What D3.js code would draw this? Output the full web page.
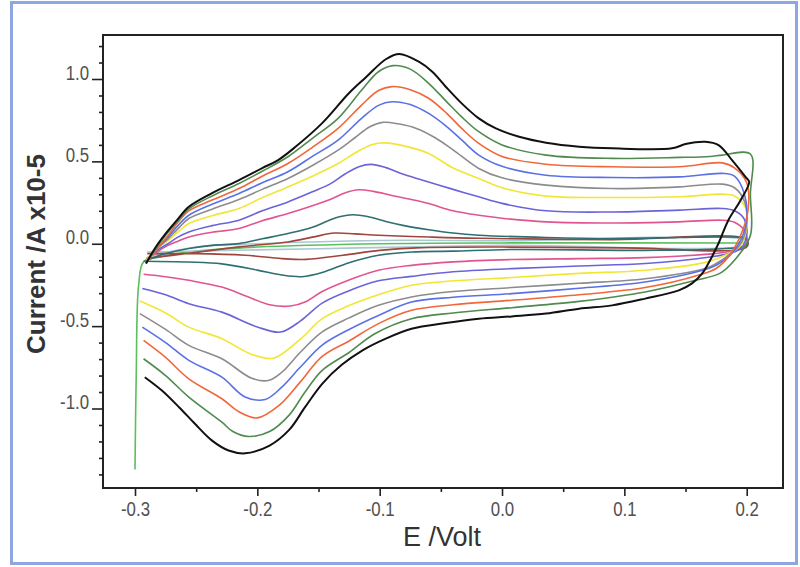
<!DOCTYPE html>
<html>
<head>
<meta charset="utf-8">
<script src="https://cdn.jsdelivr.net/npm/d3@7"></script>
<style>
  body { margin: 0; background: #fff; }
  svg { display: block; }
</style>
</head>
<body>
<script>
// tick values
var xTicks = [-0.3, -0.2, -0.1, 0.0, 0.1, 0.2];
var xMinor = [-0.25, -0.15, -0.05, 0.05, 0.15];
var yTicks = [1.0, 0.5, 0.0, -0.5, -1.0];
var yMinor = [1.2, 1.1, 0.9, 0.8, 0.7, 0.6, 0.4, 0.3, 0.2, 0.1, -0.1, -0.2, -0.3, -0.4,
              -0.6, -0.7, -0.8, -0.9, -1.1, -1.2, -1.3, -1.4];

// scans, [E (V), I (A x10-5)]: forward branch then return branch
var scanBlack = [[-0.291,-0.12],[-0.283,-0.02],[-0.274,0.07],[-0.265,0.15],[-0.256,0.224],[-0.237,0.307],
  [-0.215,0.386],[-0.196,0.459],[-0.183,0.508],[-0.169,0.587],[-0.147,0.732],[-0.125,0.915],[-0.111,1.012],
  [-0.095,1.12],[-0.084,1.152],[-0.068,1.105],[-0.057,1.044],[-0.046,0.953],[-0.033,0.852],[-0.019,0.761],
  [-0.005,0.700],[0.014,0.649],[0.036,0.613],[0.063,0.589],[0.09,0.579],[0.139,0.579],[0.150,0.605],
  [0.166,0.619],[0.177,0.599],[0.188,0.508],[0.199,0.406],[0.202,0.376],
  [0.195,0.264],[0.185,0.143],[0.177,0.003],[0.1715,-0.08],[0.1635,-0.181],[0.155,-0.242],[0.1445,-0.283],
  [0.117,-0.333],[0.09,-0.374],[0.063,-0.394],[0.036,-0.424],[0.008,-0.441],[-0.019,-0.455],[-0.046,-0.481],
  [-0.074,-0.516],[-0.095,-0.576],[-0.114,-0.647],[-0.131,-0.735],[-0.147,-0.85],[-0.161,-0.992],
  [-0.174,-1.13],[-0.19,-1.225],[-0.210,-1.272],[-0.2235,-1.255],[-0.237,-1.195],[-0.251,-1.093],
  [-0.264,-0.992],[-0.278,-0.891],[-0.292,-0.81]];
var scanDarkGreen = [[-0.291,-0.12],[-0.283,-0.03],[-0.274,0.06],[-0.265,0.14],[-0.256,0.212],[-0.237,0.29],
  [-0.215,0.366],[-0.196,0.44],[-0.175,0.528],[-0.155,0.64],[-0.134,0.761],[-0.115,0.93],[-0.101,1.044],
  [-0.089,1.081],[-0.075,1.06],[-0.06,0.974],[-0.045,0.86],[-0.033,0.77],[-0.019,0.68],[0.0,0.6],
  [0.036,0.538],[0.09,0.518],[0.145,0.524],[0.17,0.53],[0.18,0.538],[0.203,0.545],
  [0.203,0.3],[0.203,0.05],[0.19,-0.1],[0.178,-0.18],[0.158,-0.222],[0.117,-0.293],[0.063,-0.35],
  [0.008,-0.388],[-0.04,-0.42],[-0.074,-0.455],[-0.104,-0.546],[-0.125,-0.66],[-0.147,-0.769],
  [-0.161,-0.9],[-0.174,-1.04],[-0.19,-1.14],[-0.207,-1.17],[-0.22,-1.14],[-0.229,-1.083],
  [-0.256,-0.931],[-0.275,-0.8],[-0.293,-0.698]];
var scanOrange = [[-0.291,-0.12],[-0.282,-0.03],[-0.273,0.05],[-0.265,0.13],[-0.256,0.2],[-0.237,0.265],
  [-0.215,0.335],[-0.196,0.41],[-0.175,0.487],[-0.155,0.585],[-0.134,0.70],[-0.115,0.84],[-0.101,0.93],
  [-0.09,0.954],[-0.075,0.935],[-0.06,0.883],[-0.045,0.79],[-0.033,0.7],[-0.019,0.609],[0.0,0.53],
  [0.036,0.483],[0.09,0.467],[0.145,0.467],[0.18,0.491],[0.19,0.46],[0.2,0.37],
  [0.201,0.2],[0.195,0.05],[0.185,-0.08],[0.175,-0.15],[0.161,-0.19],[0.117,-0.266],[0.063,-0.31],
  [0.008,-0.343],[-0.04,-0.37],[-0.074,-0.404],[-0.101,-0.485],[-0.125,-0.59],[-0.147,-0.684],
  [-0.165,-0.84],[-0.182,-0.98],[-0.2,-1.057],[-0.215,-1.02],[-0.229,-0.941],[-0.256,-0.82],
  [-0.275,-0.69],[-0.293,-0.587]];
var scanBlue = [[-0.291,-0.11],[-0.282,-0.03],[-0.273,0.04],[-0.265,0.11],[-0.256,0.173],[-0.237,0.24],
  [-0.215,0.305],[-0.196,0.37],[-0.175,0.437],[-0.155,0.53],[-0.134,0.629],[-0.115,0.76],[-0.101,0.84],
  [-0.09,0.862],[-0.075,0.845],[-0.06,0.791],[-0.045,0.71],[-0.033,0.63],[-0.019,0.538],[0.0,0.47],
  [0.036,0.416],[0.09,0.402],[0.145,0.406],[0.18,0.427],[0.19,0.41],[0.198,0.305],
  [0.2,0.15],[0.195,0.02],[0.185,-0.08],[0.175,-0.13],[0.164,-0.161],[0.117,-0.232],[0.063,-0.27],
  [0.008,-0.303],[-0.04,-0.325],[-0.074,-0.354],[-0.101,-0.435],[-0.125,-0.52],[-0.147,-0.615],
  [-0.165,-0.75],[-0.18,-0.87],[-0.1935,-0.945],[-0.21,-0.93],[-0.229,-0.81],[-0.256,-0.708],
  [-0.275,-0.6],[-0.294,-0.506]];
var scanGray = [[-0.291,-0.11],[-0.282,-0.03],[-0.273,0.03],[-0.265,0.09],[-0.256,0.153],[-0.237,0.21],
  [-0.215,0.269],[-0.196,0.33],[-0.175,0.396],[-0.155,0.475],[-0.134,0.568],[-0.12,0.645],[-0.108,0.71],
  [-0.097,0.737],[-0.085,0.728],[-0.07,0.7],[-0.055,0.645],[-0.04,0.57],[-0.019,0.457],[0.0,0.4],
  [0.036,0.356],[0.09,0.335],[0.145,0.345],[0.18,0.362],[0.19,0.34],[0.198,0.26],
  [0.2,0.12],[0.195,0.0],[0.185,-0.07],[0.175,-0.12],[0.166,-0.15],[0.117,-0.212],[0.063,-0.24],
  [0.008,-0.266],[-0.04,-0.29],[-0.074,-0.323],[-0.101,-0.374],[-0.125,-0.45],[-0.147,-0.535],
  [-0.165,-0.66],[-0.18,-0.78],[-0.191,-0.83],[-0.205,-0.815],[-0.229,-0.698],[-0.256,-0.617],
  [-0.275,-0.52],[-0.296,-0.424]];
var scanYellow = [[-0.291,-0.1],[-0.282,-0.03],[-0.273,0.02],[-0.265,0.07],[-0.256,0.123],[-0.237,0.17],
  [-0.215,0.214],[-0.196,0.28],[-0.175,0.345],[-0.155,0.41],[-0.134,0.487],[-0.118,0.56],[-0.106,0.603],
  [-0.095,0.612],[-0.082,0.597],[-0.06,0.548],[-0.04,0.46],[-0.019,0.396],[0.0,0.34],[0.036,0.289],
  [0.09,0.281],[0.145,0.285],[0.18,0.301],[0.19,0.29],[0.199,0.22],
  [0.2,0.1],[0.195,-0.01],[0.185,-0.06],[0.168,-0.11],[0.117,-0.161],[0.063,-0.18],[0.008,-0.205],
  [-0.04,-0.225],[-0.074,-0.252],[-0.101,-0.31],[-0.125,-0.375],[-0.147,-0.455],[-0.165,-0.58],
  [-0.187,-0.695],[-0.205,-0.67],[-0.229,-0.576],[-0.256,-0.506],[-0.275,-0.42],[-0.296,-0.348]];
var scanViolet = [[-0.291,-0.1],[-0.282,-0.04],[-0.273,0.0],[-0.265,0.04],[-0.256,0.072],[-0.237,0.11],
  [-0.215,0.143],[-0.196,0.2],[-0.175,0.254],[-0.155,0.315],[-0.14,0.365],[-0.128,0.425],[-0.117,0.468],
  [-0.107,0.482],[-0.095,0.462],[-0.08,0.42],[-0.06,0.375],[-0.04,0.33],[-0.019,0.285],[0.0,0.245],
  [0.036,0.2],[0.09,0.193],[0.145,0.204],[0.18,0.214],[0.19,0.2],[0.198,0.15],
  [0.2,0.05],[0.195,-0.03],[0.185,-0.06],[0.17,-0.08],[0.117,-0.12],[0.063,-0.135],[0.008,-0.151],
  [-0.04,-0.17],[-0.074,-0.198],[-0.101,-0.225],[-0.125,-0.285],[-0.147,-0.36],[-0.165,-0.47],
  [-0.181,-0.536],[-0.2,-0.505],[-0.229,-0.415],[-0.256,-0.364],[-0.275,-0.31],[-0.294,-0.272]];
var scanPink = [[-0.291,-0.1],[-0.282,-0.05],[-0.273,-0.01],[-0.265,0.015],[-0.256,0.041],[-0.237,0.07],
  [-0.215,0.092],[-0.196,0.14],[-0.175,0.183],[-0.155,0.23],[-0.14,0.27],[-0.128,0.31],[-0.117,0.328],
  [-0.105,0.318],[-0.09,0.293],[-0.075,0.27],[-0.06,0.244],[-0.04,0.2],[-0.019,0.173],[0.0,0.155],
  [0.036,0.133],[0.09,0.126],[0.145,0.133],[0.18,0.143],[0.19,0.13],[0.198,0.08],
  [0.2,0.0],[0.19,-0.04],[0.173,-0.06],[0.117,-0.084],[0.063,-0.09],[0.008,-0.096],[-0.04,-0.11],
  [-0.074,-0.131],[-0.101,-0.161],[-0.125,-0.22],[-0.147,-0.29],[-0.16,-0.35],[-0.173,-0.378],
  [-0.19,-0.37],[-0.21,-0.315],[-0.229,-0.263],[-0.256,-0.222],[-0.275,-0.2],[-0.293,-0.185]];
var scanTeal = [[-0.291,-0.1],[-0.275,-0.06],[-0.256,-0.029],[-0.237,-0.01],[-0.215,0.001],[-0.196,0.03],
  [-0.175,0.062],[-0.155,0.1],[-0.142,0.14],[-0.132,0.165],[-0.122,0.176],[-0.11,0.165],[-0.095,0.135],
  [-0.08,0.11],[-0.06,0.085],[-0.04,0.065],[-0.019,0.052],[0.036,0.038],[0.09,0.032],[0.145,0.038],
  [0.18,0.041],[0.2,0.03],
  [0.2,-0.01],[0.18,-0.03],[0.117,-0.04],[0.008,-0.035],[-0.04,-0.045],[-0.074,-0.05],[-0.101,-0.07],
  [-0.125,-0.115],[-0.147,-0.175],[-0.1635,-0.2],[-0.18,-0.19],[-0.2,-0.16],[-0.229,-0.122],
  [-0.256,-0.111],[-0.293,-0.106]];
var scanBrown = [[-0.291,-0.09],[-0.256,-0.058],[-0.215,-0.019],[-0.175,0.011],[-0.155,0.04],[-0.137,0.065],
  [-0.12,0.06],[-0.101,0.052],[-0.06,0.041],[-0.019,0.033],[0.09,0.025],[0.2,0.025],
  [0.2,-0.02],[0.1,-0.025],[0.0,-0.02],[-0.07,-0.025],[-0.1,-0.04],[-0.13,-0.07],[-0.16,-0.095],
  [-0.18,-0.09],[-0.21,-0.07],[-0.25,-0.06],[-0.29,-0.06]];
var scanPale = [[-0.29,-0.08],[-0.25,-0.02],[-0.2,0.0],[-0.1,0.02],[0.0,0.018],[0.2,0.018],
  [0.2,-0.005],[0.0,-0.01],[-0.15,-0.03],[-0.29,-0.05]];
var scanGreen = [[-0.3,-1.37],[-0.299,-0.8],[-0.297,-0.25],[-0.293,-0.11],[-0.28,-0.08],[-0.256,-0.05],
  [-0.2,-0.02],[-0.1,0.0],[0.0,0.005],[0.2,0.005]];

var scans = [scanGreen, scanPale, scanBrown, scanTeal, scanPink, scanViolet, scanYellow,
             scanGray, scanBlue, scanOrange, scanDarkGreen, scanBlack];
var scanColors = ["#5cbf5c", "#a8c8d4", "#a0453c", "#2f6f72", "#e0558f", "#6b63d9", "#f2e634",
                  "#8c8c8c", "#5a70e6", "#f0673a", "#4f8a4f", "#111111"];

var width = 800, height = 567;
var frame = {left: 103, top: 35, right: 783, bottom: 488};

var svg = d3.select("body").append("svg")
  .attr("width", width)
  .attr("height", height);

// light blue border round the picture
svg.append("rect")
  .attr("x", 11.5).attr("y", 2.5)
  .attr("width", 785).attr("height", 561)
  .attr("fill", "none")
  .attr("stroke", "#8ea6e2")
  .attr("stroke-width", 3);

var x = d3.scaleLinear().domain([-0.3, 0.2]).range([135, 746.7]);
var y = d3.scaleLinear().domain([-1, 1]).range([408.5, 79]);

svg.append("clipPath").attr("id", "plotclip")
  .append("rect")
  .attr("x", frame.left).attr("y", frame.top)
  .attr("width", frame.right - frame.left)
  .attr("height", frame.bottom - frame.top);

var line = d3.line()
  .x(function(d) { return x(d[0]); })
  .y(function(d) { return y(d[1]); })
  .curve(d3.curveCatmullRom.alpha(0.5));

svg.append("g").attr("clip-path", "url(#plotclip)")
  .selectAll("path")
  .data(scans)
  .enter().append("path")
  .attr("d", line)
  .attr("fill", "none")
  .attr("stroke", function(d, i) { return scanColors[i]; })
  .attr("stroke-width", function(d, i) { return i == scans.length - 1 ? 2 : 1.6; })
  .attr("stroke-linejoin", "round");

// axes
var fmt = function(d) { return d.toFixed(1); };

var xAxis = svg.append("g")
  .attr("transform", "translate(0," + frame.bottom + ")")
  .call(d3.axisBottom(x).tickValues(xTicks).tickSize(8).tickFormat(fmt));
svg.append("g")
  .attr("transform", "translate(0," + frame.bottom + ")")
  .call(d3.axisBottom(x).tickValues(xMinor).tickSize(4).tickFormat(""));

var yAxis = svg.append("g")
  .attr("transform", "translate(" + frame.left + ",0)")
  .call(d3.axisLeft(y).tickValues(yTicks).tickSize(11).tickFormat(fmt));
svg.append("g")
  .attr("transform", "translate(" + frame.left + ",0)")
  .call(d3.axisLeft(y).tickValues(yMinor).tickSize(4).tickFormat(""));

svg.selectAll(".domain").remove();
svg.selectAll(".tick line").attr("stroke", "#222").attr("stroke-width", 1.6);
svg.selectAll(".tick text")
  .attr("fill", "#505050")
  .style("font-family", "'Liberation Sans', Arial, sans-serif")
  .style("font-size", "20px");
xAxis.selectAll(".tick text").attr("y", 14);
yAxis.selectAll(".tick text").attr("x", -14).attr("dy", "0");
// narrow look of the tick labels
svg.selectAll(".tick text").each(function() {
  var w = this.getComputedTextLength();
  if (w > 0) d3.select(this).attr("textLength", w * 0.84).attr("lengthAdjust", "spacingAndGlyphs");
});

// frame
svg.append("rect")
  .attr("x", frame.left).attr("y", frame.top)
  .attr("width", frame.right - frame.left)
  .attr("height", frame.bottom - frame.top)
  .attr("fill", "none")
  .attr("stroke", "#222")
  .attr("stroke-width", 2);

// titles
svg.append("text")
  .attr("transform", "translate(45,254) rotate(-90)")
  .attr("text-anchor", "middle")
  .attr("fill", "#333")
  .style("font-family", "'Liberation Sans', Arial, sans-serif")
  .style("font-weight", "bold")
  .style("font-size", "26px")
  .text("Current /A x10-5");

svg.append("text")
  .attr("x", 442).attr("y", 546)
  .attr("text-anchor", "middle")
  .attr("fill", "#333")
  .style("font-family", "'Liberation Sans', Arial, sans-serif")
  .style("font-size", "27px")
  .text("E /Volt");
</script>
</body>
</html>
